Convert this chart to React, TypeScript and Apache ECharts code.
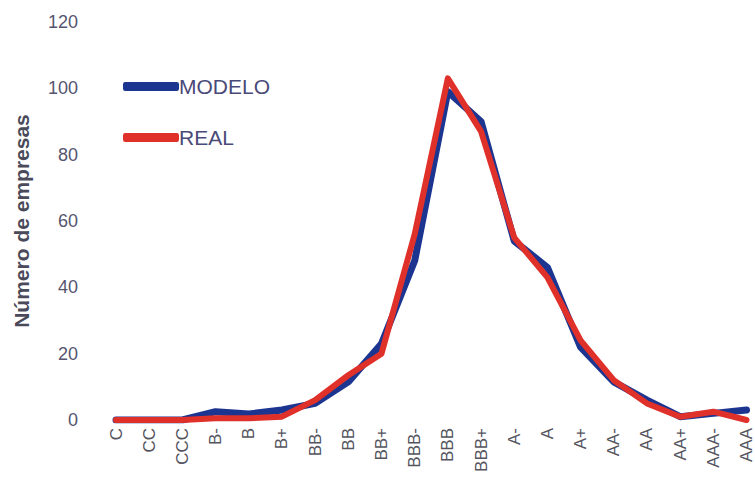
import React, { useEffect, useRef } from "react";
import * as echarts from "echarts";

const categories = ["C", "CC", "CCC", "B-", "B", "B+", "BB-", "BB", "BB+", "BBB-", "BBB", "BBB+", "A-", "A", "A+", "AA-", "AA", "AA+", "AAA-", "AAA"];
const modelo = [0, 0, 0, 2.5, 1.8, 3, 5, 11.5, 23, 48, 99, 90, 54, 46, 22, 11.5, 6, 1, 2, 3];
const real = [0, 0, 0, 0.5, 0.5, 1, 6, 13.5, 20, 56, 103, 87, 55, 43, 24, 12, 5, 1, 2.5, 0];
const yTicks = { min: 0, max: 120, interval: 20 };

export default function App() {
  const ref = useRef<HTMLDivElement>(null);
  useEffect(() => {
    if (!ref.current) return;
    const chart = echarts.init(ref.current, undefined, { renderer: "svg" });
    const font = "Liberation Sans Narrow, Arial Narrow, Liberation Sans, Arial, sans-serif";
    chart.setOption({
      animation: false,
      backgroundColor: "#ffffff",
      grid: { left: 116, right: 5, top: 22, bottom: 72, containLabel: false },
      legend: {
        orient: "vertical",
        left: 118,
        top: 71,
        itemWidth: 56,
        itemHeight: 9,
        itemGap: 30,
        textStyle: { fontSize: 21, color: "#4a4a78", fontFamily: "Liberation Sans, Arial, sans-serif", padding: [0, 0, 0, -5] },
        data: [
          { name: "MODELO", icon: "roundRect", itemStyle: { color: "#1c3590" } },
          { name: "REAL", icon: "roundRect", itemStyle: { color: "#e0302a" } },
        ],
      },
      xAxis: {
        type: "category",
        data: categories,
        boundaryGap: false,
        axisLine: { show: false },
        axisTick: { show: false },
        splitLine: { show: false },
        axisLabel: {
          rotate: 90,
          interval: 0,
          margin: 8,
          fontSize: 17,
          color: "#555560",
          fontFamily: "Liberation Sans, Arial, sans-serif",
        },
      },
      yAxis: {
        type: "value",
        min: yTicks.min,
        max: yTicks.max,
        interval: yTicks.interval,
        name: "Número de empresas",
        nameLocation: "middle",
        nameRotate: 90,
        nameGap: 84,
        nameTextStyle: { fontSize: 21, fontWeight: "bold", color: "#4a4a5a", fontFamily: "Liberation Sans, Arial, sans-serif" },
        axisLine: { show: false },
        axisTick: { show: false },
        splitLine: { show: false },
        axisLabel: { margin: 38, fontSize: 18, color: "#555570", fontFamily: font },
      },
      series: [
        {
          name: "MODELO",
          type: "line",
          data: modelo,
          showSymbol: false,
          symbol: "none",
          lineStyle: { width: 7, color: "#1c3590", cap: "round", join: "round" },
          itemStyle: { color: "#1c3590" },
        },
        {
          name: "REAL",
          type: "line",
          data: real,
          showSymbol: false,
          symbol: "none",
          lineStyle: { width: 6, color: "#e0302a", cap: "round", join: "round" },
          itemStyle: { color: "#e0302a" },
        },
      ],
    });
    return () => chart.dispose();
  }, []);
  return <div ref={ref} style={{ position: "fixed", left: 0, top: 0, width: 755, height: 492 }} />;
}
